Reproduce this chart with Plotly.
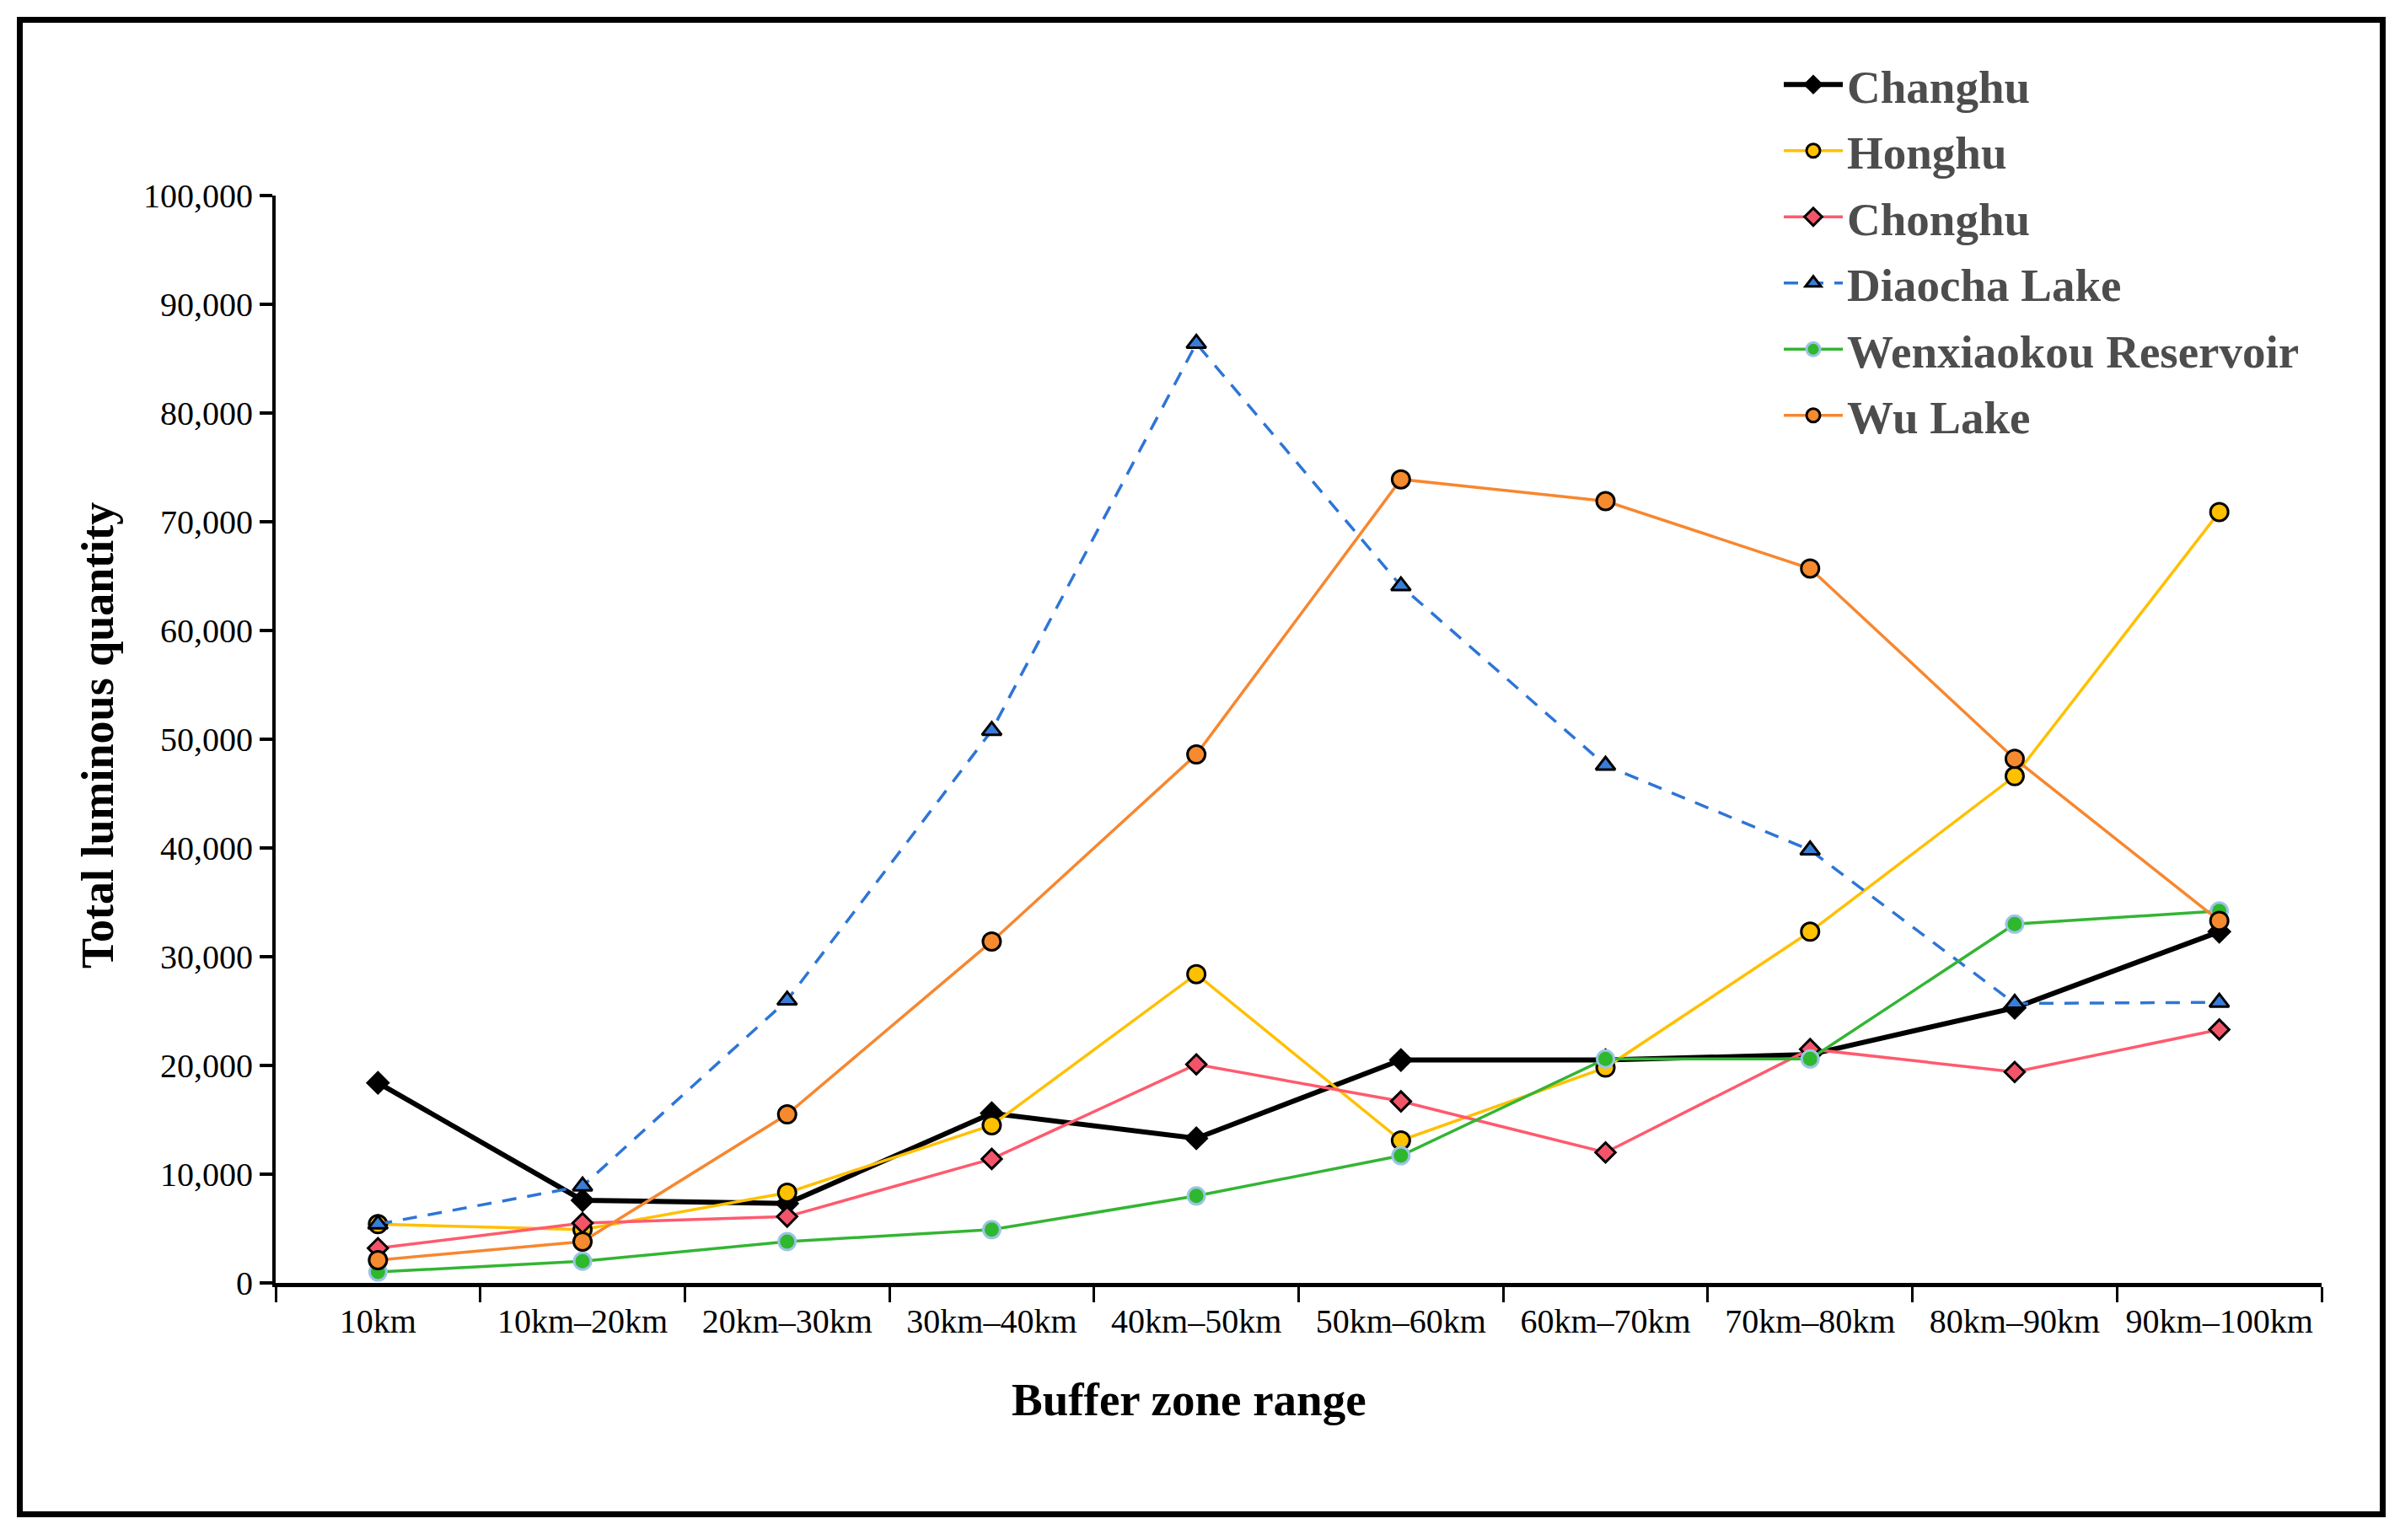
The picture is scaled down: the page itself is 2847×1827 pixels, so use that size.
import plotly.graph_objects as go

categories = ["10km", "10km\u201320km", "20km\u201330km", "30km\u201340km", "40km\u201350km",
              "50km\u201360km", "60km\u201370km", "70km\u201380km", "80km\u201390km", "90km\u2013100km"]

changhu = [18400, 7600, 7300, 15600, 13300, 20500, 20500, 21000, 25300, 32300]
honghu = [5400, 4900, 8300, 14500, 28400, 13100, 19800, 32300, 46600, 70900]
chonghu = [3200, 5500, 6100, 11400, 20100, 16700, 12000, 21500, 19400, 23300]
diaocha = [5400, 8900, 26000, 50800, 86400, 64100, 47600, 39800, 25700, 25800]
wenxiaokou = [1000, 2000, 3800, 4900, 8000, 11700, 20600, 20600, 33000, 34200]
wulake = [2100, 3800, 15500, 31400, 48600, 73900, 71900, 65700, 48200, 33300]

y_ticks = list(range(0, 100001, 10000))

W, H = 2847, 1827
L, R, T, B = 327, 93, 232, 305
PW, PH = W - L - R, H - T - B

def px_x(x):
    return (x - L) / PW

def px_y(y):
    return (H - B - y) / PH

FONT = "Liberation Serif, Times New Roman, serif"

fig = go.Figure()

series = [
    ("Changhu", changhu, dict(color="black", width=6), dict(symbol="diamond", size=20, color="black", line=dict(color="black", width=2))),
    ("Honghu", honghu, dict(color="#FFC000", width=3.5), dict(symbol="circle", size=21, color="#FFC000", line=dict(color="black", width=3))),
    ("Chonghu", chonghu, dict(color="#FF5A6E", width=3.5), dict(symbol="diamond", size=18, color="#F2556A", line=dict(color="black", width=3))),
    ("Diaocha Lake", diaocha, dict(color="#2E75D6", width=3.5, dash="17px,13px"), dict(symbol="triangle-up", size=20, color="#3A7DD8", line=dict(color="black", width=3))),
    ("Wenxiaokou Reservoir", wenxiaokou, dict(color="#33B533", width=3.5), dict(symbol="circle", size=20, color="#2EB82E", line=dict(color="#9DC3E6", width=3))),
    ("Wu Lake", wulake, dict(color="#F7872F", width=3.5), dict(symbol="circle", size=21, color="#F58A2E", line=dict(color="black", width=3))),
]

for name, vals, line, marker in series:
    fig.add_trace(go.Scatter(x=categories, y=vals, name=name, mode="lines+markers",
                             line=line, marker=marker, legendgroup=name))

fig.update_layout(
    width=W, height=H,
    margin=dict(l=L, r=R, t=T, b=B, autoexpand=False),
    paper_bgcolor="white", plot_bgcolor="white",
    font=dict(family=FONT, color="black", size=40),
    showlegend=True,
    legend=dict(
        x=px_x(2111), y=px_y(58), xanchor="left", yanchor="top",
        font=dict(family=FONT, size=55, color="#4D4D4D", weight="bold"),
        itemwidth=70, tracegroupgap=4, bgcolor="rgba(0,0,0,0)",
    ),
    xaxis=dict(
        type="category", categoryorder="array", categoryarray=categories,
        range=[-0.5, 9.5], showline=True, linecolor="black", linewidth=5,
        ticks="outside", tickson="boundaries", ticklen=18, tickwidth=3, tickcolor="black",
        showgrid=False, zeroline=False, tickfont=dict(family=FONT, size=40, color="black"),
        ticklabelstandoff=6,
    ),
    yaxis=dict(
        range=[0, 100000], tickvals=y_ticks, tickformat=",d", showline=True, linecolor="black",
        linewidth=4, ticks="outside", ticklen=15, tickwidth=4, tickcolor="black",
        showgrid=False, zeroline=False, tickfont=dict(family=FONT, size=40, color="black"),
        ticklabelstandoff=0,
    ),
    annotations=[
        dict(text="<b>Buffer zone range</b>", xref="paper", yref="paper", x=px_x(1410), y=px_y(1660),
             xanchor="center", yanchor="middle", showarrow=False, font=dict(family=FONT, size=55, color="black")),
        dict(text="<b>Total luminous quantity</b>", xref="paper", yref="paper", x=px_x(116), y=px_y(873),
             xanchor="center", yanchor="middle", textangle=-90, showarrow=False, font=dict(family=FONT, size=54, color="black")),
    ],
    shapes=[
        dict(type="rect", xref="paper", yref="paper", x0=px_x(23.5), x1=px_x(2826.5), y0=px_y(1796.5), y1=px_y(23.5),
             line=dict(color="black", width=7), fillcolor="rgba(0,0,0,0)", layer="below"),
    ],
)

fig.write_html("out.html", config={"displayModeBar": False},
               post_script="document.body.style.margin='0px';document.body.style.overflow='hidden';")
